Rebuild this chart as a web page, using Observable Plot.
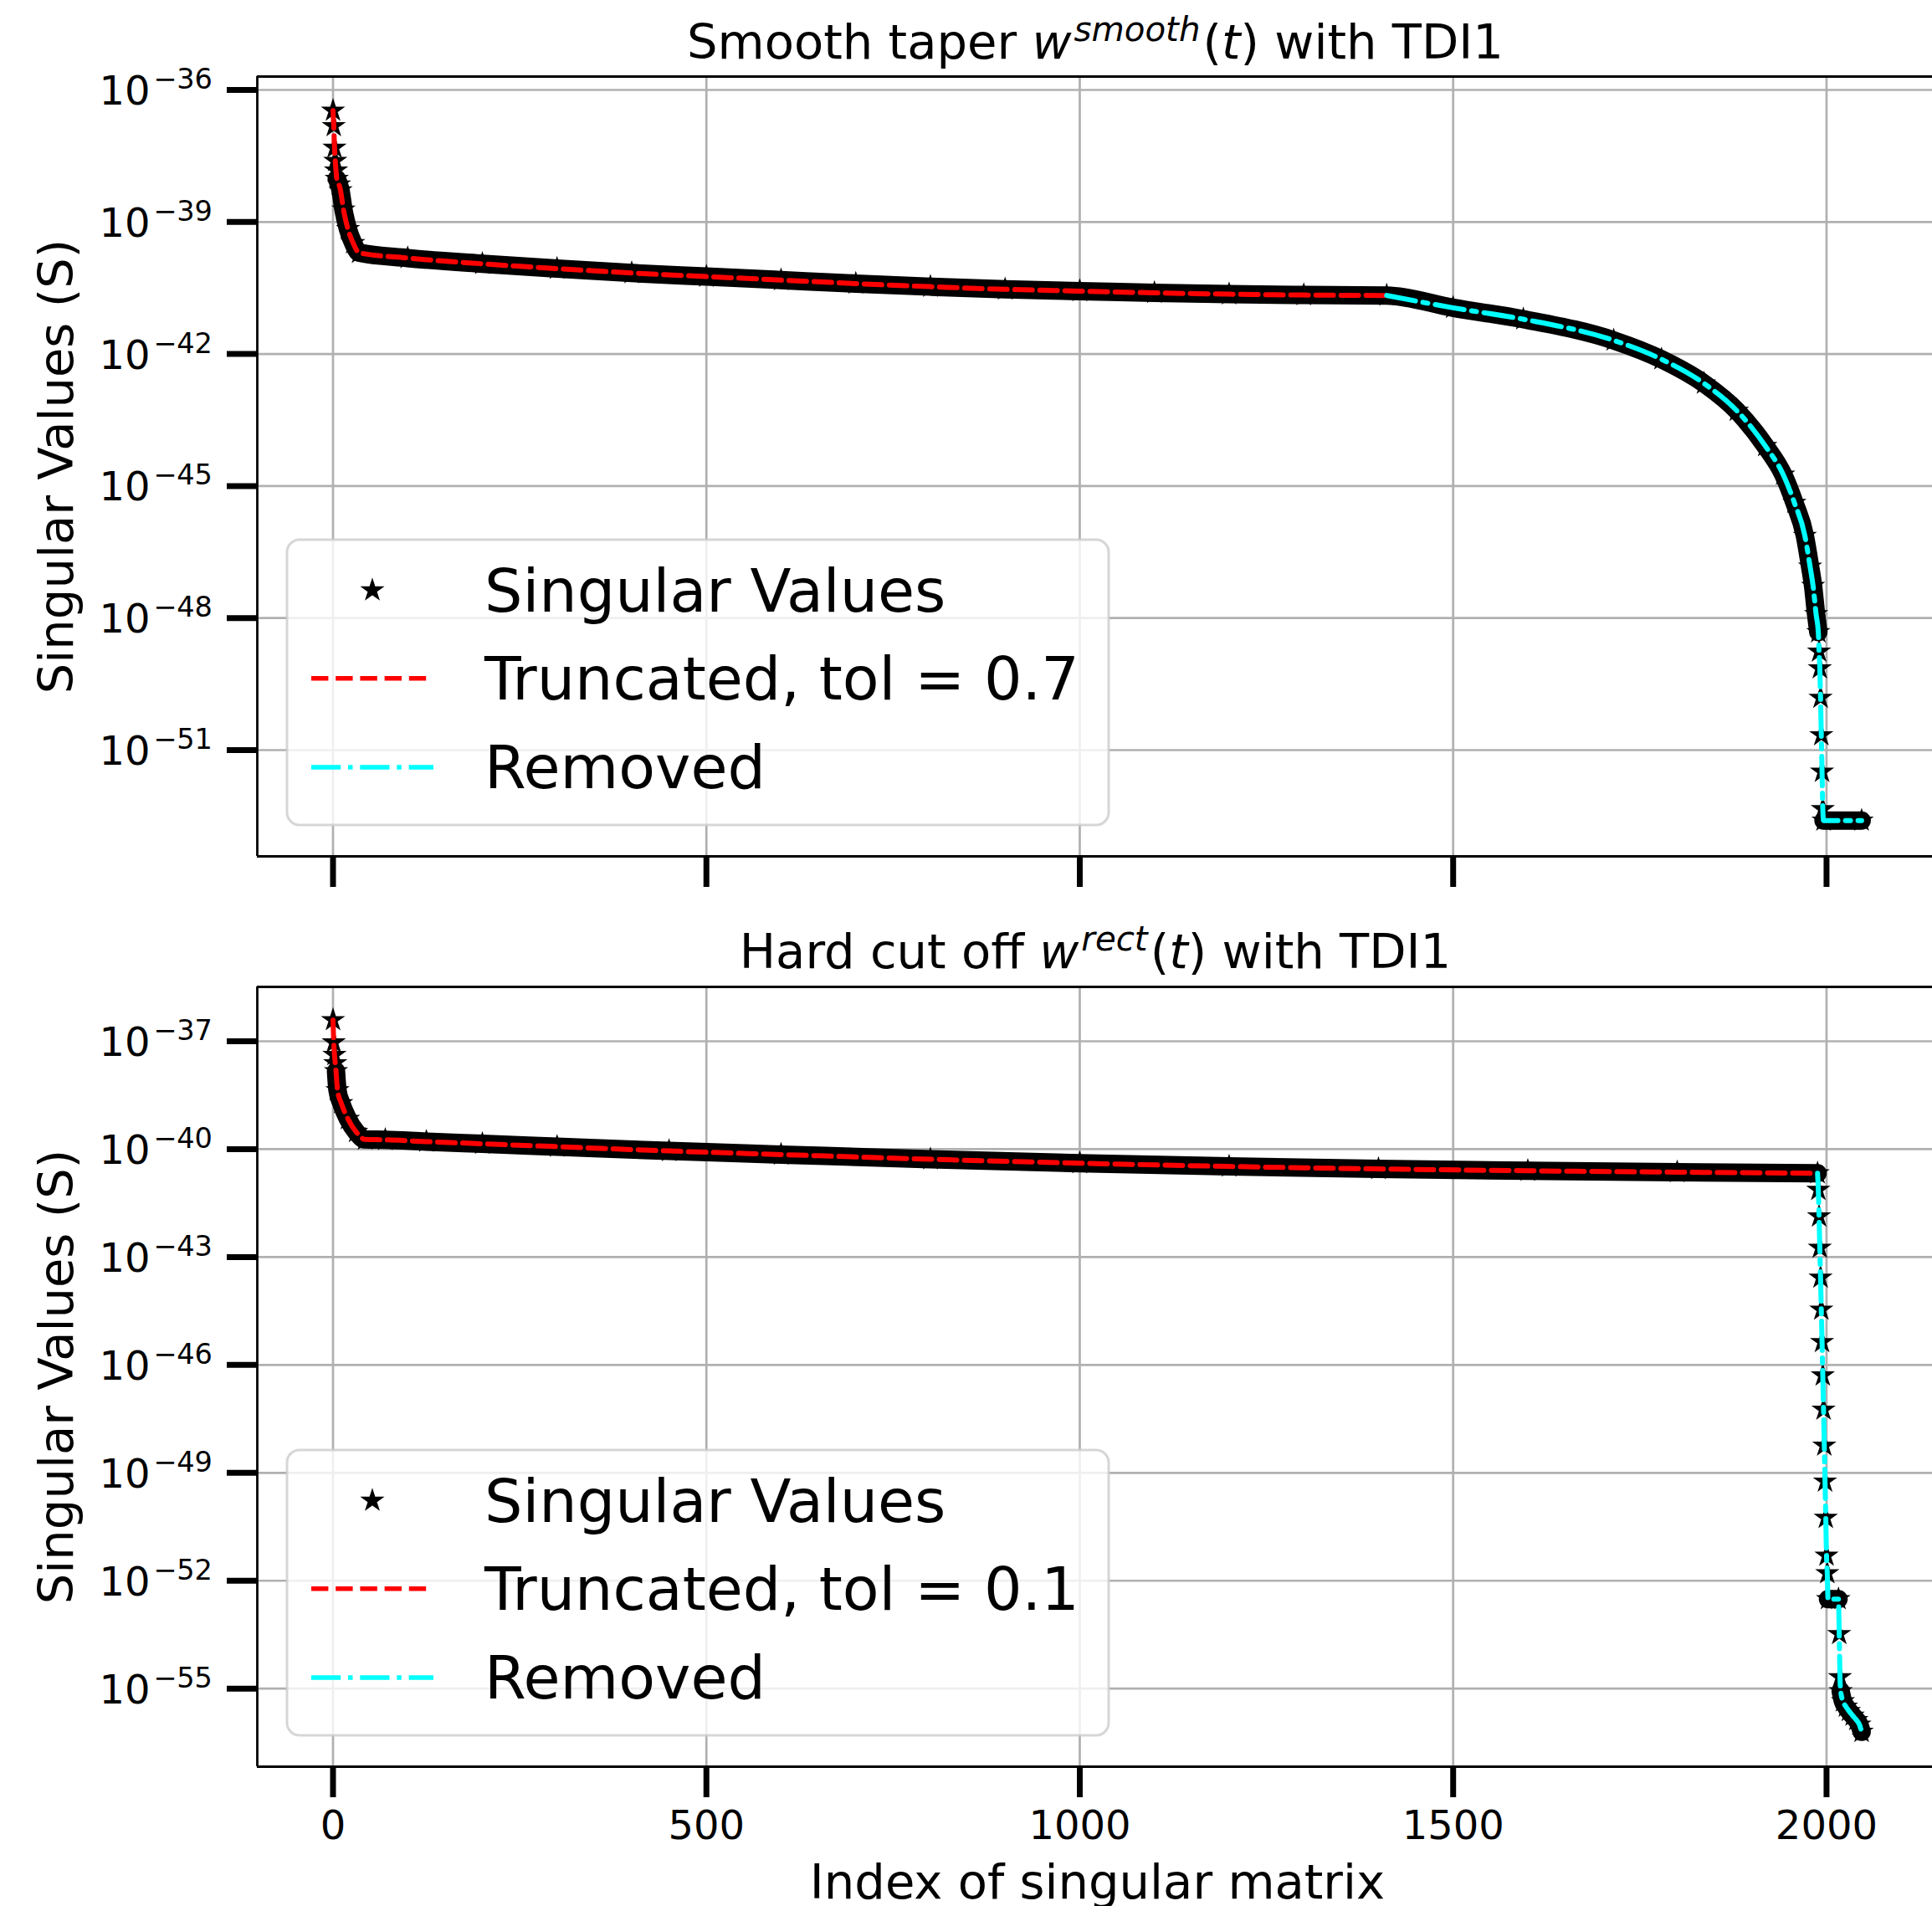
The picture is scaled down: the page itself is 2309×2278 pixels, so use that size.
<!DOCTYPE html>
<html><head><meta charset="utf-8">
<script src="https://cdn.jsdelivr.net/npm/d3@7"></script>
<script src="https://cdn.jsdelivr.net/npm/@observablehq/plot@0.6"></script>
<style>
html,body{margin:0;padding:0;background:#fff;overflow:hidden;width:2309px;height:2278px;}
#wrap{position:relative;width:2309px;height:2278px;font-family:"DejaVu Sans";}
.panel{position:absolute;left:0;}
#overlay{position:absolute;left:0;top:0;pointer-events:none;}
</style></head><body><div id="wrap"></div>
<script>
// ---------- data (log10 of singular values) ----------
const smoothIdx = [0,1,2,3,4,5, 8,10,14,20,27,35, 100,200,300,400,500,600,700,800,900,1000,1100,1200,1300,1411,
  1500,1594,1715,1779,1836,1880,1918,1942,1957,1971,1978,1982,1986,
  1989,1990,1991,1992,1993,1994,1995,1996,2047];
const smoothLogS = [-36.47,-36.82,-37.31,-37.61,-37.83,-38.02, -38.15,-38.28,-38.72,-39.16,-39.48,-39.70,
  -39.82,-39.95,-40.06,-40.16,-40.24,-40.32,-40.40,-40.47,-40.53,-40.57,-40.61,-40.64,-40.66,-40.67,
  -40.95,-41.21,-41.69,-42.12,-42.67,-43.29,-44.09,-44.74,-45.38,-46.13,-46.83,-47.27,-47.91,
  -48.32,-48.76,-49.14,-49.81,-50.66,-51.49,-52.34,-52.60,-52.60];
const smoothCut = 1411;

const hardIdx = [0,1,2,3,4, 6,11,20,31,43, 70,125,200,300,450,600,800,1000,1200,1400,1600,1800,1988,
  1989,1990,1991,1992,1993,1994,1995,1996,1997,1998,1999,2000,2001,2002,2016,2017,2018,
  2019,2022,2026,2030,2035,2040,2044,2047];
const hardLogS = [-36.41,-37.03,-37.38,-37.61,-37.83, -38.36,-38.72,-39.16,-39.52,-39.73,
  -39.74,-39.79,-39.85,-39.93,-40.05,-40.15,-40.28,-40.39,-40.48,-40.55,-40.60,-40.64,-40.67,
  -41.13,-41.87,-42.74,-43.57,-44.46,-45.36,-46.29,-47.24,-48.24,-49.24,-50.25,-51.30,-51.79,-52.51,-52.51,-53.48,-54.68,
  -55.07,-55.35,-55.50,-55.62,-55.75,-55.87,-56.00,-56.20];
const hardCut = 1988;

const xTicks = [0,500,1000,1500,2000];
const smoothYExp = [-36,-39,-42,-45,-48,-51];
const hardYExp = [-37,-40,-43,-46,-49,-52,-55];
const legendSmooth = ["Singular Values","Truncated, tol = 0.7","Removed"];
const legendHard = ["Singular Values","Truncated, tol = 0.1","Removed"];
const xLabel = "Index of singular matrix";
const yLabel = "Singular Values (S)";

// ---------- rendering ----------
const W = 2309;
const FONT = "DejaVu Sans";
const STAR_R = 7.2;
const xDom = [-101.4, 2141.8];
const wrap = document.getElementById("wrap");

function panel({idx, logS, cut, yExp, yDomExp, top, height, marginTop, marginBottom, showX}) {
  const pts = idx.map((i,k)=>({i, s: Math.pow(10, logS[k])}));
  const trunc = pts.filter(d=>d.i<=cut);
  const removed = pts.filter(d=>d.i>=cut);
  // dense stretches (many overlapping stars) drawn as a continuous band
  const band = [];
  let run = -1, open = false;
  for (let k=1;k<pts.length;k++) {
    if (pts[k].i - pts[k-1].i > 1) {
      if (!open) { run++; band.push({...pts[k-1], run}); open = true; }
      band.push({...pts[k], run});
    } else open = false;
  }
  const yDom = [Math.pow(10,yDomExp[0]), Math.pow(10,yDomExp[1])];
  const yT = yExp.map(e=>Math.pow(10,e));
  const marks = [
    Plot.gridX(xTicks, {stroke:"#b0b0b0", strokeOpacity:1, strokeWidth:2.7}),
    Plot.gridY(yT, {stroke:"#b0b0b0", strokeOpacity:1, strokeWidth:2.7}),
    Plot.line(band, {x:"i", y:"s", z:"run", curve:"monotone-x", stroke:"black", strokeWidth:22, strokeLinecap:"round", strokeLinejoin:"round"}),
    Plot.dot(pts, {x:"i", y:"s", symbol:"star", r:STAR_R, fill:"black", stroke:"black", strokeWidth:2}),
    Plot.line(trunc, {x:"i", y:"s", curve:"monotone-x", stroke:"#ff0000", strokeWidth:6, strokeDasharray:"21,9"}),
    Plot.line(removed, {x:"i", y:"s", curve:"monotone-x", stroke:"#00ffff", strokeWidth:6, strokeDasharray:"35,9,6,9"}),
    Plot.ruleX([xDom[0]], {stroke:"black", strokeWidth:2.8}),
    Plot.ruleY(yDom, {stroke:"black", strokeWidth:2.8}),
    Plot.axisX(xTicks, {tickSize:37, strokeWidth:7, tickFormat:()=>"", label:null}),
    Plot.axisY(yT, {tickSize:36, strokeWidth:7, tickFormat:()=>"", label:null}),
    Plot.text(yExp, {x:()=>xDom[0], y:e=>Math.pow(10,e), text:()=>"10", textAnchor:"end", lineAnchor:"bottom", dx:-128, dy:17.5, fontSize:48, fontFamily:FONT, fill:"black"}),
    Plot.text(yExp, {x:()=>xDom[0], y:e=>Math.pow(10,e), text:e=>"\u2212"+Math.abs(e), textAnchor:"end", lineAnchor:"bottom", dx:-53.5, dy:-1.5, fontSize:33.6, fontFamily:FONT, fill:"black"}),
    Plot.text([yLabel], {frameAnchor:"left", rotate:-90, dx:-221, textAnchor:"middle", lineAnchor:"bottom", fontSize:57.6, fontFamily:FONT, fill:"black"})
  ];
  if (showX) {
    marks.push(Plot.text(xTicks, {x:d=>d, y:()=>yDom[0], text:d=>String(d), textAnchor:"middle", lineAnchor:"bottom", dy:86.6, fontSize:48, fontFamily:FONT, fill:"black"}));
    marks.push(Plot.text([xLabel], {frameAnchor:"bottom", dx:3, dy:157, textAnchor:"middle", lineAnchor:"bottom", fontSize:57.6, fontFamily:FONT, fill:"black"}));
  }
  const svg = Plot.plot({
    width: W, height, marginLeft:307, marginRight:0, marginTop, marginBottom,
    style:{fontFamily:FONT, background:"transparent", overflow:"visible"},
    x:{type:"linear", domain:xDom},
    y:{type:"log", domain:yDom},
    marks
  });
  svg.classList.add("panel");
  svg.style.top = top+"px";
  svg.style.maxWidth = "none";
  wrap.appendChild(svg);
}

panel({idx:smoothIdx, logS:smoothLogS, cut:smoothCut, yExp:smoothYExp, yDomExp:[-53.414,-35.696], top:0, height:1100, marginTop:91, marginBottom:77, showX:false});
panel({idx:hardIdx, logS:hardLogS, cut:hardCut, yExp:hardYExp, yDomExp:[-57.17,-35.488], top:1100, height:1178, marginTop:79, marginBottom:167, showX:true});

// ---------- titles and legends (overlay) ----------
const ov = d3.select(wrap).append("svg").attr("id","overlay").attr("width",W).attr("height",2278)
  .style("font-family", FONT);

function title(y, pre, sup, post) {
  const t = ov.append("text").attr("x",1309).attr("y",y).attr("text-anchor","middle").attr("font-size",57.6).attr("fill","black");
  t.append("tspan").text(pre);
  t.append("tspan").attr("font-style","italic").text("w");
  t.append("tspan").attr("font-style","italic").attr("font-size",40.3).attr("dy",-21).attr("dx",3).text(sup);
  t.append("tspan").attr("dy",21).attr("dx",3).text("(");
  t.append("tspan").attr("font-style","italic").text("t");
  t.append("tspan").text(post);
}
title(70, "Smooth taper ", "smooth", ") with TDI1");
title(1157, "Hard cut off ", "rect", ") with TDI1");

function legend(y0, labels) {
  const g = ov.append("g");
  g.append("rect").attr("x",343).attr("y",y0).attr("width",982).attr("height",341).attr("rx",15)
    .attr("fill","white").attr("fill-opacity",0.8).attr("stroke","#cccccc").attr("stroke-opacity",0.8).attr("stroke-width",3);
  const rows = [60.5, 165.7, 272];
  g.append("path").attr("d", d3.symbol(d3.symbolStar, Math.PI*STAR_R*STAR_R)())
    .attr("transform",`translate(445,${y0+rows[0]})`).attr("fill","black").attr("stroke","black").attr("stroke-width",2);
  g.append("line").attr("x1",372).attr("x2",518).attr("y1",y0+rows[1]).attr("y2",y0+rows[1])
    .attr("stroke","#ff0000").attr("stroke-width",5.5).attr("stroke-dasharray","20.4,8.8");
  g.append("line").attr("x1",372).attr("x2",518).attr("y1",y0+rows[2]).attr("y2",y0+rows[2])
    .attr("stroke","#00ffff").attr("stroke-width",5.5).attr("stroke-dasharray","35.2,8.8,5.5,8.8");
  labels.forEach((l,k)=>{
    g.append("text").attr("x",579).attr("y",y0+rows[k]+25).attr("font-size",71.6).attr("fill","black").text(l);
  });
}
legend(645, legendSmooth);
legend(1733, legendHard);
</script></body></html>
